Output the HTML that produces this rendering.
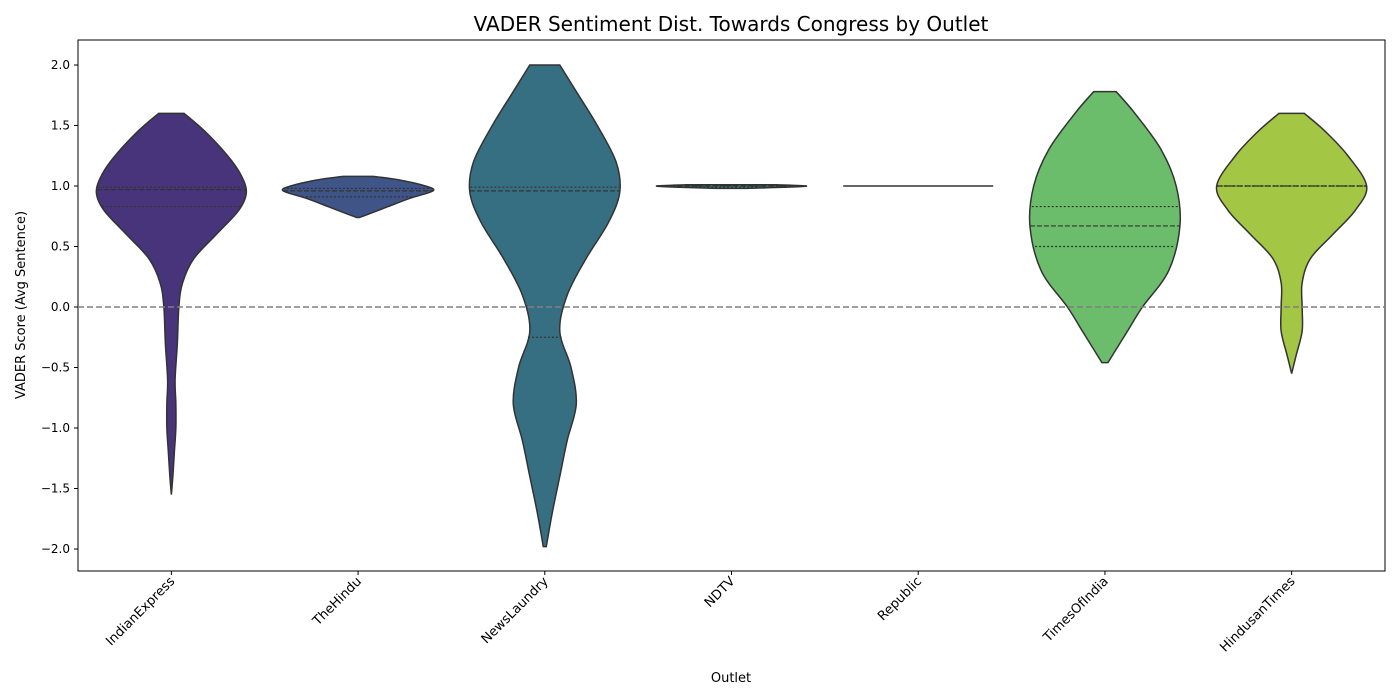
<!DOCTYPE html>
<html><head><meta charset="utf-8"><style>
body{margin:0;background:#fff;}
svg{display:block;font-family:"DejaVu Sans","Liberation Sans",sans-serif;}
</style></head><body>
<svg id="chart" width="1400" height="700" viewBox="0 0 1400 700" xmlns="http://www.w3.org/2000/svg">
<rect width="1400" height="700" fill="#fff"/>
<text x="731" y="31" font-size="20" text-anchor="middle">VADER Sentiment Dist. Towards Congress by Outlet</text>
<g id="plot"></g>
<text x="731" y="682" font-size="13" text-anchor="middle">Outlet</text>
<text transform="translate(25,305) rotate(-90)" font-size="13" text-anchor="middle">VADER Score (Avg Sentence)</text>
</svg>
<script>
const categories=["IndianExpress","TheHindu","NewsLaundry","NDTV","Republic","TimesOfIndia","HindusanTimes"];
const colors=["#48347a","#3f5588","#376f82","#2d8d89","#3aa87f","#6bbd6b","#a3c645"];
const profileValues=[
[1.6,1.45,1.25,1.1,0.95,0.8,0.6,0.4,0.2,0.0,-0.3,-0.6,-0.8,-1.0,-1.2,-1.4,-1.55],
[1.08,1.05,1.0,0.96,0.9,0.83,0.77,0.74],
[2.0,1.8,1.5,1.2,0.95,0.7,0.4,0.1,-0.2,-0.5,-0.8,-1.1,-1.4,-1.7,-1.98],
[1.01,1.0,0.99,0.98],
[1.0,1.0],
[1.78,1.6,1.3,1.0,0.67,0.3,0.0,-0.2,-0.4,-0.46],
[1.6,1.45,1.25,1.0,0.8,0.6,0.4,0.2,0.0,-0.2,-0.4,-0.55]];
const profileDensity=[
[0.17,0.45,0.75,0.92,1.0,0.9,0.6,0.3,0.15,0.1,0.08,0.05,0.06,0.06,0.04,0.02,0.0],
[0.2,0.55,0.9,1.0,0.7,0.4,0.15,0.02],
[0.2,0.4,0.7,0.95,1.0,0.85,0.55,0.3,0.2,0.35,0.42,0.3,0.2,0.1,0.02],
[0.6,1.0,0.7,0.2],
[1.0,1.0],
[0.15,0.4,0.75,0.95,1.0,0.85,0.5,0.3,0.1,0.04],
[0.17,0.45,0.75,1.0,0.85,0.55,0.25,0.14,0.14,0.14,0.06,0.0]];
const quartileLow=[0.83,0.91,-0.25,0.99,1.0,0.5,1.0];
const medians=[0.97,0.96,0.96,1.0,1.0,0.67,1.0];
const quartileHigh=[0.99,0.98,0.99,1.0,1.0,0.83,1.0];
const yTicks=[-2.0,-1.5,-1.0,-0.5,0.0,0.5,1.0,1.5,2.0];

const X0=78,X1=1385,Y0=40,Y1=571,HW=75;
const xs=i=>X0+(X1-X0)/categories.length*(i+0.5);
const ys=v=>307-v*121;
const NS="http://www.w3.org/2000/svg";
const plot=document.getElementById('plot');
function mk(t,a){const e=document.createElementNS(NS,t);for(const k in a)e.setAttribute(k,a[k]);plot.appendChild(e);return e;}
function widthAt(c,v){const vs=profileValues[c],ds=profileDensity[c];for(let i=0;i<vs.length-1;i++){if(v<=vs[i]&&v>=vs[i+1]){const t=(vs[i]-v)/((vs[i]-vs[i+1])||1);return ds[i]+(ds[i+1]-ds[i])*t;}}return 0;}
function smooth(pts){let d=`M${pts[0][0]},${pts[0][1]}`;for(let i=0;i<pts.length-1;i++){const p0=pts[Math.max(0,i-1)],p1=pts[i],p2=pts[i+1],p3=pts[Math.min(pts.length-1,i+2)];d+=` C${p1[0]+(p2[0]-p0[0])/6},${p1[1]+(p2[1]-p0[1])/6} ${p2[0]-(p3[0]-p1[0])/6},${p2[1]-(p3[1]-p1[1])/6} ${p2[0]},${p2[1]}`;}return d;}

const frame=mk('rect',{x:X0,y:Y0,width:X1-X0,height:Y1-Y0,fill:'none',stroke:'#000','stroke-width':1});

yTicks.forEach(v=>{
 const t=mk('line',{x1:X0-4,x2:X0,y1:ys(v),y2:ys(v),stroke:'#000'});
 
 const l=mk('text',{x:X0-8,y:ys(v)+4,'font-size':12,'text-anchor':'end'});l.textContent=v.toFixed(1).replace('-','\u2212');
 
});
categories.forEach((c,i)=>{
 const x=xs(i);
 const t=mk('line',{x1:x,x2:x,y1:Y1,y2:Y1+4,stroke:'#000'});
 
 const l=mk('text',{transform:`translate(${x+4},${Y1+11}) rotate(-45)`,'font-size':13,'text-anchor':'end'});l.textContent=c;
 
 const vs=profileValues[i],ds=profileDensity[i];
 let el;
 if(vs[0]===vs[vs.length-1]){
  el=mk('line',{x1:x-HW,x2:x+HW,y1:ys(vs[0]),y2:ys(vs[0]),stroke:'#333','stroke-width':1.5});
 }else{
  const right=vs.map((v,k)=>[x+ds[k]*HW,ys(v)]),left=vs.map((v,k)=>[x-ds[k]*HW,ys(v)]).reverse();
  const dR=smooth(right),dL=smooth(left).replace(/^M/,'L');
  el=mk('path',{d:dR+' '+dL+' Z',fill:colors[i],stroke:'#333','stroke-width':1.5});
  [[quartileLow[i],'2,2'],[medians[i],'5,2'],[quartileHigh[i],'2,2']].forEach(([q,da])=>{
   const w=widthAt(i,q)*HW;
   const ql=mk('line',{x1:x-w,x2:x+w,y1:ys(q),y2:ys(q),stroke:'#333','stroke-width':1.2,'stroke-dasharray':da});
   
  });
 }
 
 
});
const zl=mk('line',{x1:X0,x2:X1,y1:ys(0),y2:ys(0),stroke:'#808080','stroke-width':1.5,'stroke-dasharray':'6,3'});


</script>
</body></html>
